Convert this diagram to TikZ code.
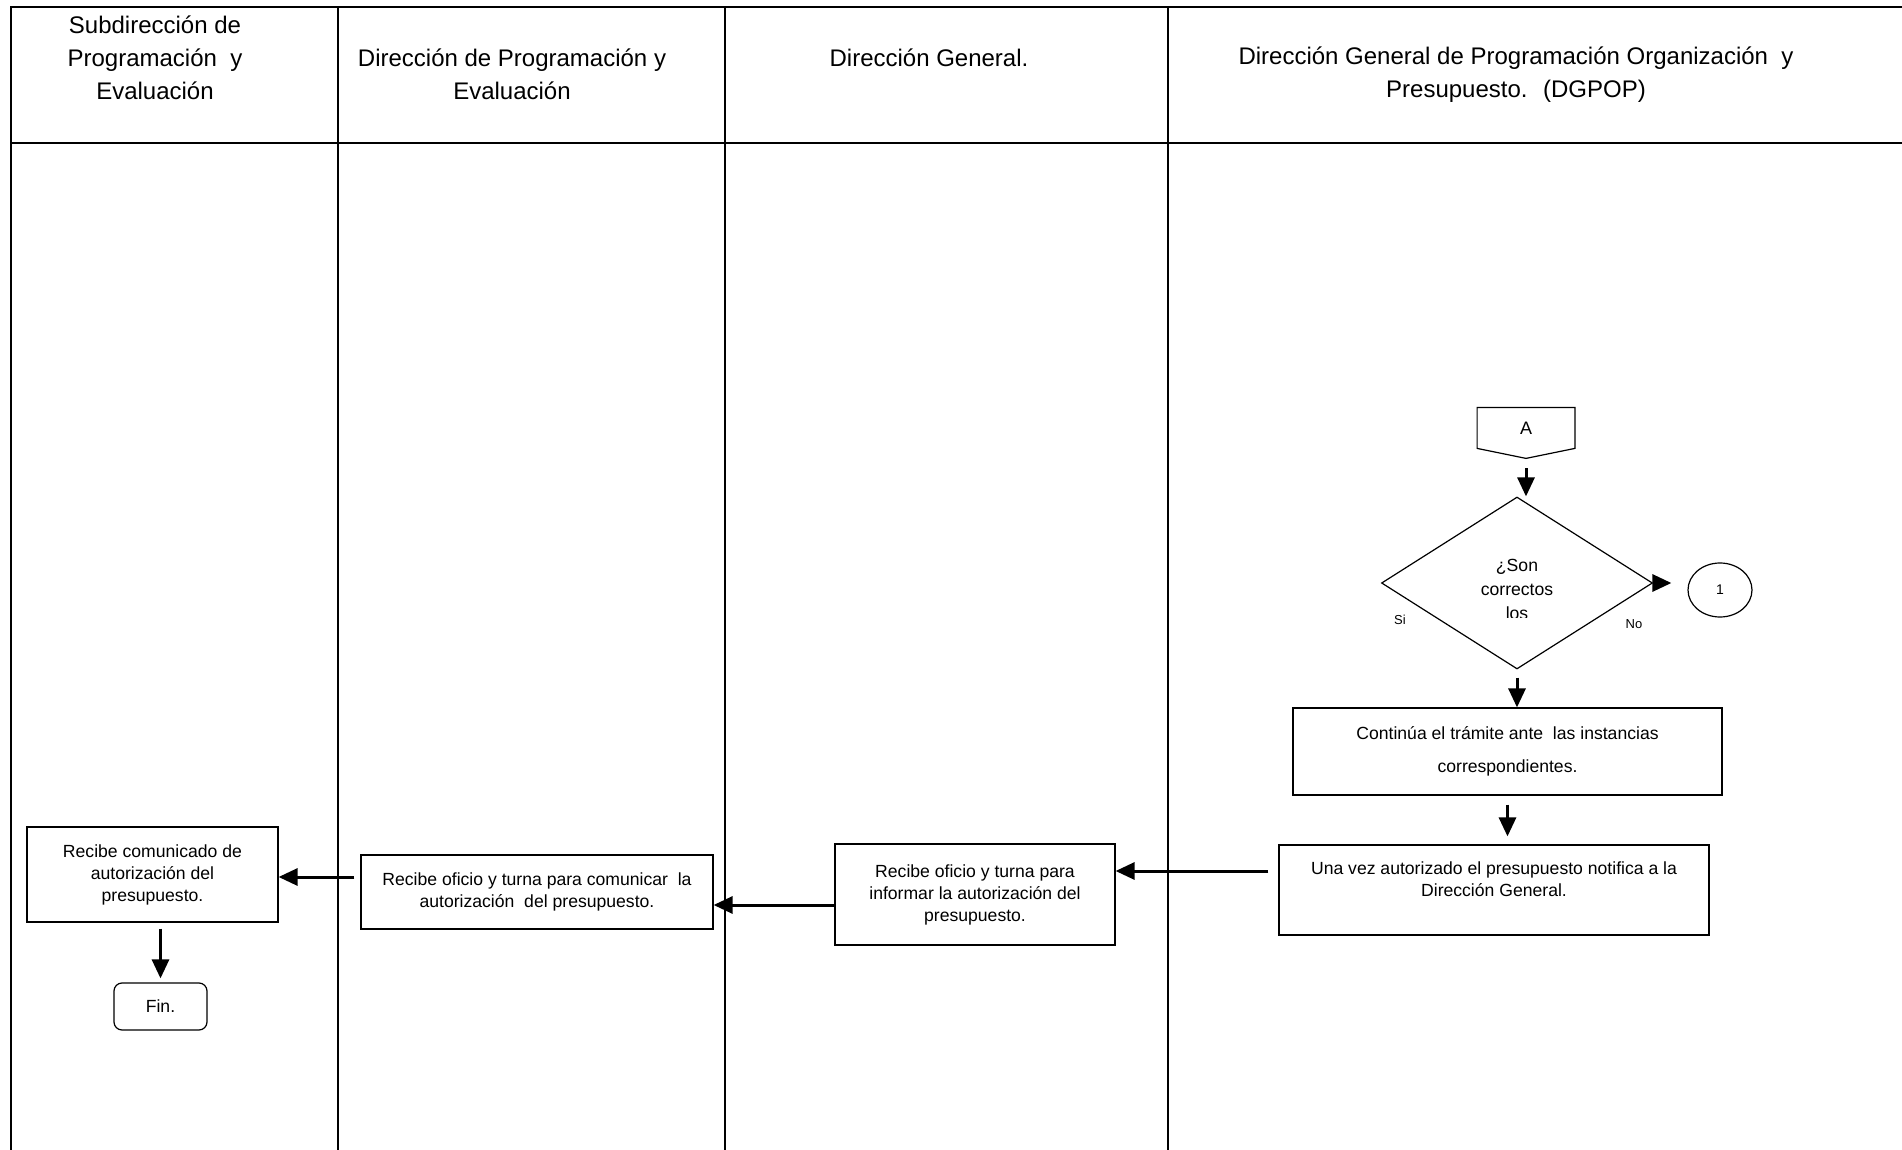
\documentclass[tikz,border=0pt]{standalone}
\usepackage{fontspec}
\setmainfont{Liberation Sans}
\usetikzlibrary{arrows.meta,shapes.geometric}

\begin{document}
\begin{tikzpicture}[
  x=0.5pt, y=-0.5pt,
  lane/.style={line width=1.4pt},  hdr/.style={align=center,font=\fontsize{12}{16.5}\selectfont},  proc/.style={draw,line width=0.6pt,align=center,inner sep=2pt,font=\fontsize{8.8}{11}\selectfont},  term/.style={proc,rounded corners=4pt},  flow/.style={line width=1.5pt,-{Triangle[length=9.5pt,width=8.5pt]}},  lbl/.style={font=\fontsize{6.5}{8}\selectfont}
]
  \useasboundingbox (0,0) rectangle (1902,1150);
  \draw[lane] (11,1150) -- (11,7) -- (1902,7);
  \draw[lane] (11,143) -- (1902,143);
  \foreach \x in {338,725,1168} \draw[lane] (\x,7) -- (\x,1150);
  \node[hdr] (h1) at (155,58) {Subdirección de\\Programación~ y\\Evaluación};
  \node[hdr] (h2) at (512,74.5) {Dirección de Programación y\\Evaluación};
  \node[hdr] (h3) at (929,58) {Dirección General.};
  \node[hdr] (h4) at (1516,74.5) {Dirección General de Programación Organización~ y\\Presupuesto.~ (DGPOP)};
  \node[minimum width=48.5pt,minimum height=20pt,inner sep=0pt,font=\fontsize{9}{11}\selectfont] (A) at (1526,428) {A};
  \draw[line width=0.6pt] (A.north west) -- (A.north east) -- (A.south east) -- ([yshift=-5pt]A.south) -- (A.south west) -- cycle;
  \node[draw,diamond,line width=0.6pt,minimum width=135.5pt,minimum height=86pt,inner sep=0pt] (dec) at (1517,583) {};
  \begin{scope}
    \clip (1440,540) rectangle (1600,617);
    \node[align=center,font=\fontsize{8.8}{12}\selectfont] (decq) at (1517,589) {¿Son\\correctos\\los};
  \end{scope}
  \node[lbl] (si) at (1400,620) {Si};
  \node[lbl] (no) at (1634,624) {No};
  \node[draw,ellipse,line width=0.6pt,minimum width=32pt,minimum height=27pt,inner sep=0pt,font=\fontsize{7}{8}\selectfont] (c1) at (1720,590) {1};
  \node[proc,minimum width=214.5pt,minimum height=43.5pt,font=\fontsize{8.8}{16.5}\selectfont] (ct) at (1507.5,751.5) {Continúa el trámite ante~ las instancias\\correspondientes.};
  \node[proc,minimum width=215pt,minimum height=45pt] (uv) at (1494,890) {Una vez autorizado el presupuesto notifica a la\\Dirección General.\\\mbox{}};
  \node[proc,minimum width=140pt,minimum height=50.5pt] (roi) at (975,894.5) {Recibe oficio y turna para\\informar la autorización del\\presupuesto.};
  \node[proc,minimum width=176pt,minimum height=37pt] (roc) at (537,892) {Recibe oficio y turna para comunicar~ la\\autorización~ del presupuesto.};
  \node[proc,minimum width=125.5pt,minimum height=47.5pt] (rc) at (152.5,874.5) {Recibe comunicado de\\autorización del\\presupuesto.};
  \node[term,minimum width=46.5pt,minimum height=23.5pt] (fin) at (160.5,1006.5) {Fin.};
  \draw[flow,shorten <=10pt] (A.south) -- (A.south |- dec.north);
  \draw[flow,shorten <=4pt] (dec.south) -- (dec.south |- ct.north);
  \draw[flow,shorten <=4.5pt,shorten >=4pt] (ct.south) -- (ct.south |- uv.north);
  \draw[flow,shorten >=8pt] (dec.east) -- (dec.east -| c1.west);
  \draw[flow,shorten <=5pt] (uv.west |- 0,871) -- (roi.east |- 0,871);
  \draw[flow] (roi.west |- 0,905) -- (roc.east |- 0,905);
  \draw[flow,shorten <=3pt] (roc.west |- 0,877) -- (rc.east |- 0,877);
  \draw[flow,shorten <=3pt,shorten >=2pt] (rc.south -| fin) -- (fin.north);
\end{tikzpicture}
\end{document}
